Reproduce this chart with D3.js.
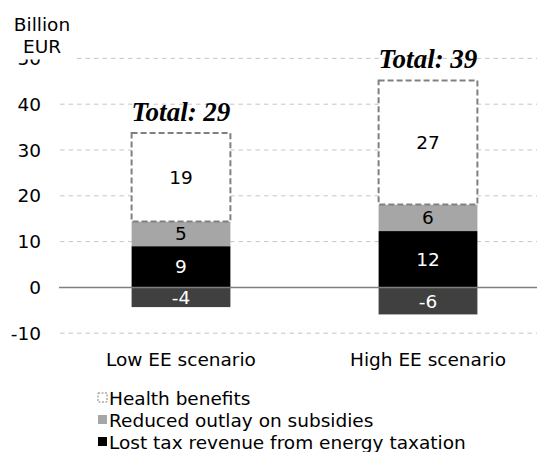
<!DOCTYPE html>
<html>
<head>
<meta charset="utf-8">
<script src="https://cdn.jsdelivr.net/npm/d3@7"></script>
<style>
  body { margin: 0; background: #fff; }
  svg { display: block; font-family: "DejaVu Sans", Verdana, sans-serif; }
</style>
</head>
<body>
<div id="chart"></div>
<script>
// data
var categories = ["Low EE scenario", "High EE scenario"];
var taxLoss = [-4.3, -5.9];          // dark segment below zero
var lostTax = [9.0, 12.3];
var reducedOutlay = [5.4, 5.8];
var healthBenefits = [19.3, 27.1];
var yTicks = [-10, 0, 10, 20, 30, 40, 50];
var legendLabels = ["Health benefits", "Reduced outlay on subsidies", "Lost tax revenue from energy taxation"];

var width = 537,
    height = 452,
    fontSize = "18.5px";

var svg = d3.select("#chart").append("svg")
    .attr("width", width)
    .attr("height", height);

var x = d3.scaleBand()
    .domain(categories)
    .range([57.5, 551.5])
    .paddingInner(0.6)
    .paddingOuter(0.3);

var y = d3.scaleLinear()
    .domain([-10, 50])
    .range([333.2, 58.4]);

// gridlines
svg.append("g")
    .selectAll("line")
    .data(yTicks.filter(function(d) { return d !== 0; }))
    .join("line")
    .attr("x1", 60)
    .attr("x2", width)
    .attr("y1", function(d) { return y(d); })
    .attr("y2", function(d) { return y(d); })
    .attr("stroke", "#c6c6c6")
    .attr("stroke-width", 1)
    .attr("stroke-dasharray", "4.5,4");

// tick labels
svg.append("g")
    .selectAll("text")
    .data(yTicks)
    .join("text")
    .attr("x", 41)
    .attr("y", function(d) { return y(d); })
    .attr("dy", "0.36em")
    .attr("text-anchor", "end")
    .attr("font-size", fontSize)
    .attr("fill", "#000")
    .text(function(d) { return d; });

// stack the segments
var segments = [];
categories.forEach(function(c, i) {
    var base = 0;
    segments.push({cat: c, y0: taxLoss[i], y1: 0, v: taxLoss[i], fill: "#404040", text: "#fff", dash: false});
    segments.push({cat: c, y0: base, y1: base + lostTax[i], v: lostTax[i], fill: "#000", text: "#fff", dash: false});
    base += lostTax[i];
    segments.push({cat: c, y0: base, y1: base + reducedOutlay[i], v: reducedOutlay[i], fill: "#a6a6a6", text: "#000", dash: false});
    base += reducedOutlay[i];
    segments.push({cat: c, y0: base, y1: base + healthBenefits[i], v: healthBenefits[i], fill: "#fff", text: "#000", dash: true});
});

svg.append("g")
    .selectAll("rect")
    .data(segments)
    .join("rect")
    .attr("x", function(d) { return x(d.cat); })
    .attr("width", x.bandwidth())
    .attr("y", function(d) { return y(d.y1); })
    .attr("height", function(d) { return y(d.y0) - y(d.y1); })
    .attr("fill", function(d) { return d.fill; })
    .attr("stroke", function(d) { return d.dash ? "#808080" : "none"; })
    .attr("stroke-width", 2)
    .attr("stroke-dasharray", "6,3");

// zero line
svg.append("line")
    .attr("x1", 59)
    .attr("x2", width)
    .attr("y1", y(0))
    .attr("y2", y(0))
    .attr("stroke", "#7f7f7f")
    .attr("stroke-width", 1.5);

// value labels
svg.append("g")
    .selectAll("text")
    .data(segments)
    .join("text")
    .attr("x", function(d) { return x(d.cat) + x.bandwidth() / 2; })
    .attr("y", function(d) { return (y(d.y0) + y(d.y1)) / 2; })
    .attr("dy", "0.36em")
    .attr("text-anchor", "middle")
    .attr("font-size", fontSize)
    .attr("fill", function(d) { return d.text; })
    .text(function(d) { return Math.round(d.v); });

// totals on top
svg.append("g")
    .selectAll("text")
    .data(categories)
    .join("text")
    .attr("x", function(d) { return x(d) + x.bandwidth() / 2; })
    .attr("y", function(d, i) { return y(lostTax[i] + reducedOutlay[i] + healthBenefits[i]) - 12; })
    .attr("text-anchor", "middle")
    .attr("font-family", "'Liberation Serif', 'Times New Roman', serif")
    .attr("font-weight", "bold")
    .attr("font-style", "italic")
    .attr("font-size", "27px")
    .text(function(d, i) {
        var total = taxLoss[i] + lostTax[i] + reducedOutlay[i] + healthBenefits[i];
        return "Total: " + Math.round(total);
    });

// category labels
svg.append("g")
    .selectAll("text")
    .data(categories)
    .join("text")
    .attr("x", function(d) { return x(d) + x.bandwidth() / 2; })
    .attr("y", 366)
    .attr("text-anchor", "middle")
    .attr("font-size", fontSize)
    .text(function(d) { return d; });

// unit label, sits over the top tick
svg.append("rect")
    .attr("x", 0)
    .attr("y", 0)
    .attr("width", 77)
    .attr("height", 59.5)
    .attr("fill", "#fff");
svg.append("text")
    .attr("x", 42)
    .attr("y", 31)
    .attr("text-anchor", "middle")
    .attr("font-size", fontSize)
    .text("Billion");
svg.append("text")
    .attr("x", 42)
    .attr("y", 53)
    .attr("text-anchor", "middle")
    .attr("font-size", fontSize)
    .text("EUR");

// legend
var legendStyle = [
    {fill: "#fff", stroke: "#808080", dash: "2,1.5"},
    {fill: "#a6a6a6", stroke: "none", dash: null},
    {fill: "#000", stroke: "none", dash: null}
];
var legend = svg.append("g")
    .selectAll("g")
    .data(legendLabels)
    .join("g")
    .attr("transform", function(d, i) { return "translate(98," + (398 + i * 22) + ")"; });

legend.append("rect")
    .attr("x", 0)
    .attr("y", -5)
    .attr("width", 9)
    .attr("height", 9)
    .attr("fill", function(d, i) { return legendStyle[i].fill; })
    .attr("stroke", function(d, i) { return legendStyle[i].stroke; })
    .attr("stroke-width", 1)
    .attr("stroke-dasharray", function(d, i) { return legendStyle[i].dash; });

legend.append("text")
    .attr("x", 11)
    .attr("y", 0)
    .attr("dy", "0.36em")
    .attr("font-size", fontSize)
    .text(function(d) { return d; });
</script>
</body>
</html>
